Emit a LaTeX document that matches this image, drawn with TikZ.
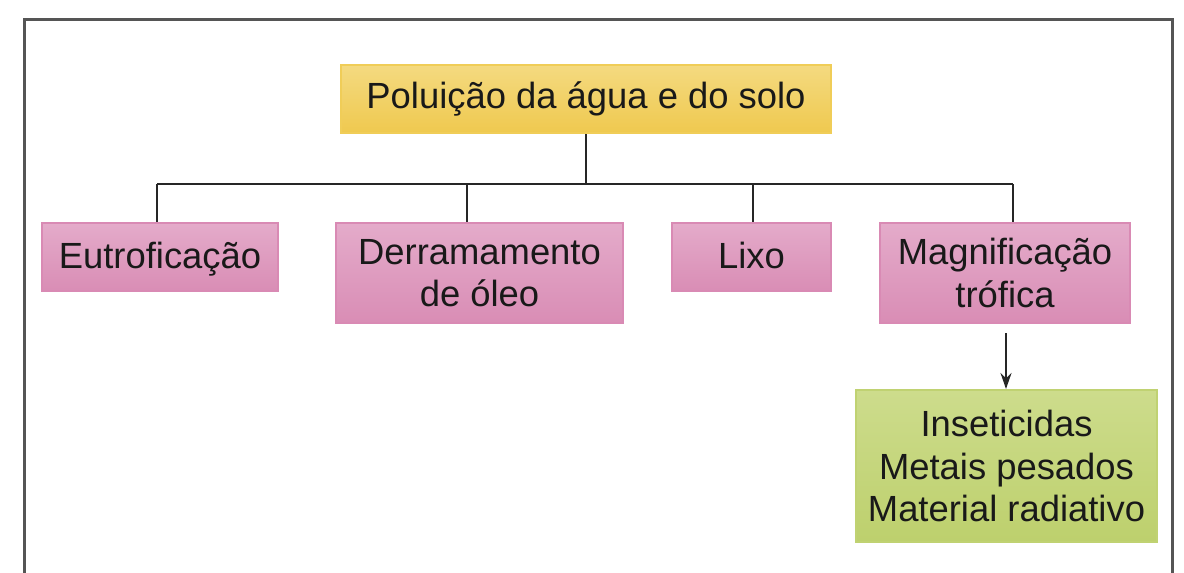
\documentclass[tikz,border=0pt]{standalone}
\usepackage{fontspec}
\setmainfont{Liberation Sans}
\usetikzlibrary{arrows.meta}
\definecolor{ytop}{HTML}{F4DA80}
\definecolor{ybot}{HTML}{EFC94F}
\definecolor{yedge}{HTML}{F0CD58}
\definecolor{ptop}{HTML}{E4ABCA}
\definecolor{pbot}{HTML}{D98DB5}
\definecolor{pedge}{HTML}{D98AB4}
\definecolor{gtop}{HTML}{CDDC8C}
\definecolor{gbot}{HTML}{BDD06D}
\definecolor{gedge}{HTML}{C0D272}
\definecolor{frame}{HTML}{555555}
\tikzset{
  box/.style={draw, line width=1pt, inner sep=0pt, align=center,
    font=\fontsize{18.2}{21.3}\selectfont, text=black!90},
  topbox/.style={box, draw=yedge, top color=ytop, bottom color=ybot},
  pinkbox/.style={box, draw=pedge, top color=ptop, bottom color=pbot},
  greenbox/.style={box, draw=gedge, top color=gtop, bottom color=gbot},
  link/.style={line width=1pt, black!85},
  arrowlink/.style={link, -{Stealth[length=8pt,width=5.5pt]}},
  outer/.style={line width=1.5pt, draw=frame}
}
\begin{document}
\begin{tikzpicture}[x=0.5pt,y=-0.5pt]
\useasboundingbox (0,0) rectangle (1184,573);
% frame
\coordinate (fBL) at (24,580);
\coordinate (fTL) at (24,19);
\coordinate (fTR) at (1172,19);
\coordinate (fBR) at (1172,580);
\draw[outer] (fBL) -- (fTL) -- (fTR) -- (fBR);
% nodes
\node[topbox, minimum width=245pt, minimum height=34pt] (top) at (586,99) {Poluição da água e do solo};
\node[pinkbox, minimum width=118pt, minimum height=34pt, text depth=2pt] (eutro) at (160,257) {Eutroficação};
\node[pinkbox, minimum width=143.5pt, minimum height=50pt] (derr) at (479.5,273) {Derramamento\\de óleo};
\node[pinkbox, minimum width=79.5pt, minimum height=34pt, text depth=2pt] (lixo) at (751.5,257) {Lixo};
\node[pinkbox, minimum width=125pt, minimum height=50pt] (magn) at (1005,273) {Magnificação\\trófica};
\node[greenbox, minimum width=150.5pt, minimum height=76pt] (green) at (1006.5,466) {Inseticidas\\Metais pesados\\Material radiativo};
% connectors
\coordinate (b1) at (157,184);
\coordinate (b2) at (467,184);
\coordinate (b3) at (753,184);
\coordinate (b4) at (1013,184);
\draw[link] (top.south) -- (top.south |- b1);
\draw[link] (b1) -- (b4);
\draw[link] (b1) -- (b1 |- eutro.north);
\draw[link] (b2) -- (b2 |- derr.north);
\draw[link] (b3) -- (b3 |- lixo.north);
\draw[link] (b4) -- (b4 |- magn.north);
\coordinate (aS) at (1006,333);
\draw[arrowlink] (aS) -- (aS |- green.north);
\end{tikzpicture}
\end{document}
